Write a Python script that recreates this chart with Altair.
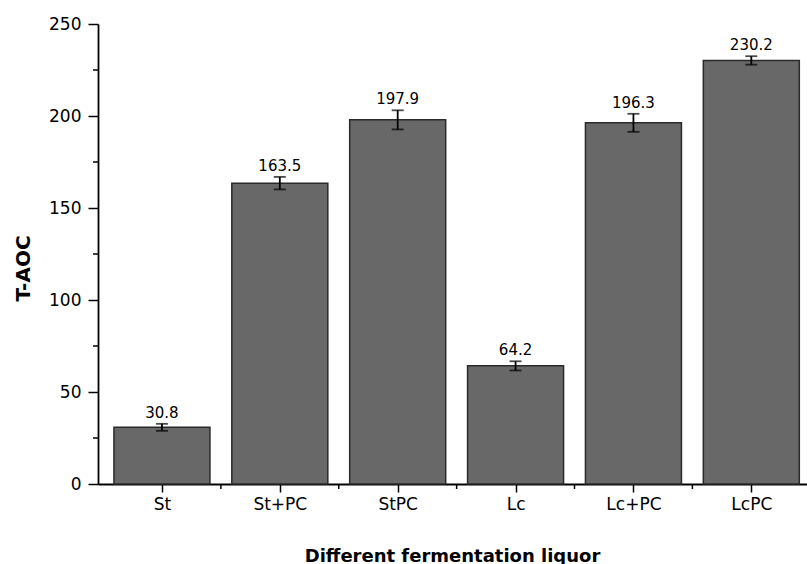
import json
import altair as alt
import pandas as pd

categories = ["St", "St+PC", "StPC", "Lc", "Lc+PC", "LcPC"]
values = [30.8, 163.5, 197.9, 64.2, 196.3, 230.2]
errors = [1.9, 3.4, 5.2, 2.5, 4.9, 2.3]
y_ticks = [0, 50, 100, 150, 200, 250]
y_minor = [25, 75, 125, 175, 225]
x_minor = [1, 2, 3, 4, 5]

df = pd.DataFrame({
    "cat": categories,
    "pos": [i + 0.5 for i in range(len(categories))],
    "val": values,
    "lo": [v - e for v, e in zip(values, errors)],
    "hi": [v + e for v, e in zip(values, errors)],
    "label": [f"{v:.1f}" for v in values],
})
dminx = pd.DataFrame({"m": x_minor})
dminy = pd.DataFrame({"m": y_minor})

W, H = 709, 460
FONT = "DejaVu Sans"
xscale = alt.Scale(domain=[0, 5.93], nice=False, zero=False)
yscale = alt.Scale(domain=[0, 250], nice=False)
label_expr = json.dumps(categories) + "[floor(datum.value)]"

xaxis = alt.Axis(
    values=[i + 0.5 for i in range(len(categories))],
    labelExpr=label_expr, grid=False, tickSize=8, tickColor="black",
    tickWidth=1.5, domainColor="black", domainWidth=1.8,
    labelFont=FONT, labelFontSize=17, labelColor="black", labelPadding=4,
    title="Different fermentation liquor", titleFont=FONT, titleFontSize=18,
    titleFontWeight="bold", titleColor="black", titleX=354, titleY=77,
    titleBaseline="alphabetic", titleAlign="center",
)
yaxis = alt.Axis(
    values=y_ticks, grid=False, tickSize=10, tickColor="black", tickWidth=1.5,
    domainColor="black", domainWidth=1.8, labelFont=FONT, labelFontSize=17,
    labelColor="black", labelPadding=7,
    title="T-AOC", titleFont=FONT, titleFontSize=20, titleFontWeight="bold",
    titleColor="black", titleX=-75, titleY=244, titleBaseline="middle",
    titleAlign="center", titleAngle=-90,
)

base = alt.Chart(df)
bars = base.mark_bar(size=96, color="#686868", stroke="#2a2a2a", strokeWidth=1.5).encode(
    x=alt.X("pos:Q", scale=xscale, axis=xaxis),
    y=alt.Y("val:Q", scale=yscale, axis=yaxis),
)
err = base.mark_rule(color="black", strokeWidth=1.8).encode(
    x="pos:Q", y="lo:Q", y2="hi:Q")
cap_lo = base.mark_tick(orient="horizontal", size=12, thickness=1.8, color="black").encode(
    x="pos:Q", y="lo:Q")
cap_hi = base.mark_tick(orient="horizontal", size=12, thickness=1.8, color="black").encode(
    x="pos:Q", y="hi:Q")
text = base.mark_text(font=FONT, fontSize=15, color="black", baseline="alphabetic", dy=-6).encode(
    x="pos:Q", y="hi:Q", text="label:N")
minx = alt.Chart(dminx).mark_rule(color="black", strokeWidth=1.5).encode(
    x="m:Q", y=alt.value(H), y2=alt.value(H + 5))
miny = alt.Chart(dminy).mark_rule(color="black", strokeWidth=1.5).encode(
    y="m:Q", x=alt.value(0), x2=alt.value(-5))

chart = alt.layer(bars, err, cap_lo, cap_hi, text, minx, miny).properties(
    width=W, height=H,
    padding={"left": 98, "top": 24, "right": 0, "bottom": 80},
    autosize=alt.AutoSizeParams(type="none"),
    background="white",
).configure_view(stroke=None)

chart.save("out.html", embed_options={"renderer": "svg", "actions": False})
